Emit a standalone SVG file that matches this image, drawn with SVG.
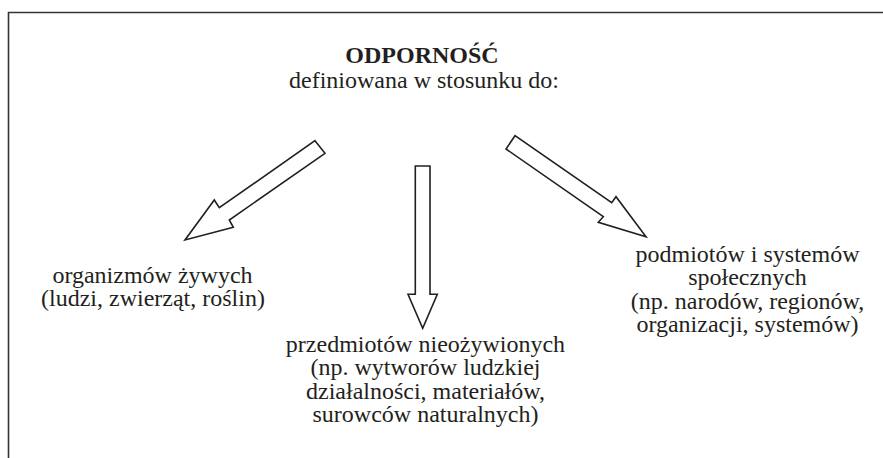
<svg xmlns="http://www.w3.org/2000/svg" width="883" height="458" viewBox="0 0 883 458" font-family="'Liberation Serif', 'Times New Roman', serif">
<style>
text{font-family:'Liberation Serif','Times New Roman',serif;font-size:24px;fill:#231f20;text-anchor:middle}
.b{font-weight:bold}
.arr{fill:#fff;stroke:#231f20;stroke-width:1.6;stroke-linejoin:miter}
</style>
<rect x="0" y="0" width="883" height="458" fill="#fff"/>
<path d="M8.5,458 V12.5 H883" fill="none" stroke="#333" stroke-width="1.6"/>
<g id="title">
<text class="b" x="422" y="63">ODPORNOŚĆ</text>
<text x="424" y="88">definiowana w stosunku do:</text>
</g>
<g id="connectors">
<polygon class="arr" points="315,140.7 325,153.3 229.3,220 233.3,227.3 185,240 214.3,200 219.3,207.7"/>
<polygon class="arr" points="415.3,166 430,166 430,294.3 437.3,294.3 422.7,328.3 408,294.3 415.3,294.3"/>
<polygon class="arr" points="515,135.7 506,149 603.3,216.7 598.3,222.3 646,236.7 616,196.7 611.7,202.7"/>
</g>
<g id="node-left">
<text x="152.5" y="283">organizmów żywych</text>
<text x="153" y="306">(ludzi, zwierząt, roślin)</text>
</g>
<g id="node-middle">
<text x="425.5" y="352">przedmiotów nieożywionych</text>
<text x="425.5" y="375">(np. wytworów ludzkiej</text>
<text x="425.5" y="398.5">działalności, materiałów,</text>
<text x="425.5" y="422">surowców naturalnych)</text>
</g>
<g id="node-right">
<text x="747.5" y="262">podmiotów i systemów</text>
<text x="747.5" y="285">społecznych</text>
<text x="747.5" y="308.5">(np. narodów, regionów,</text>
<text x="747.5" y="332">organizacji, systemów)</text>
</g>
</svg>
